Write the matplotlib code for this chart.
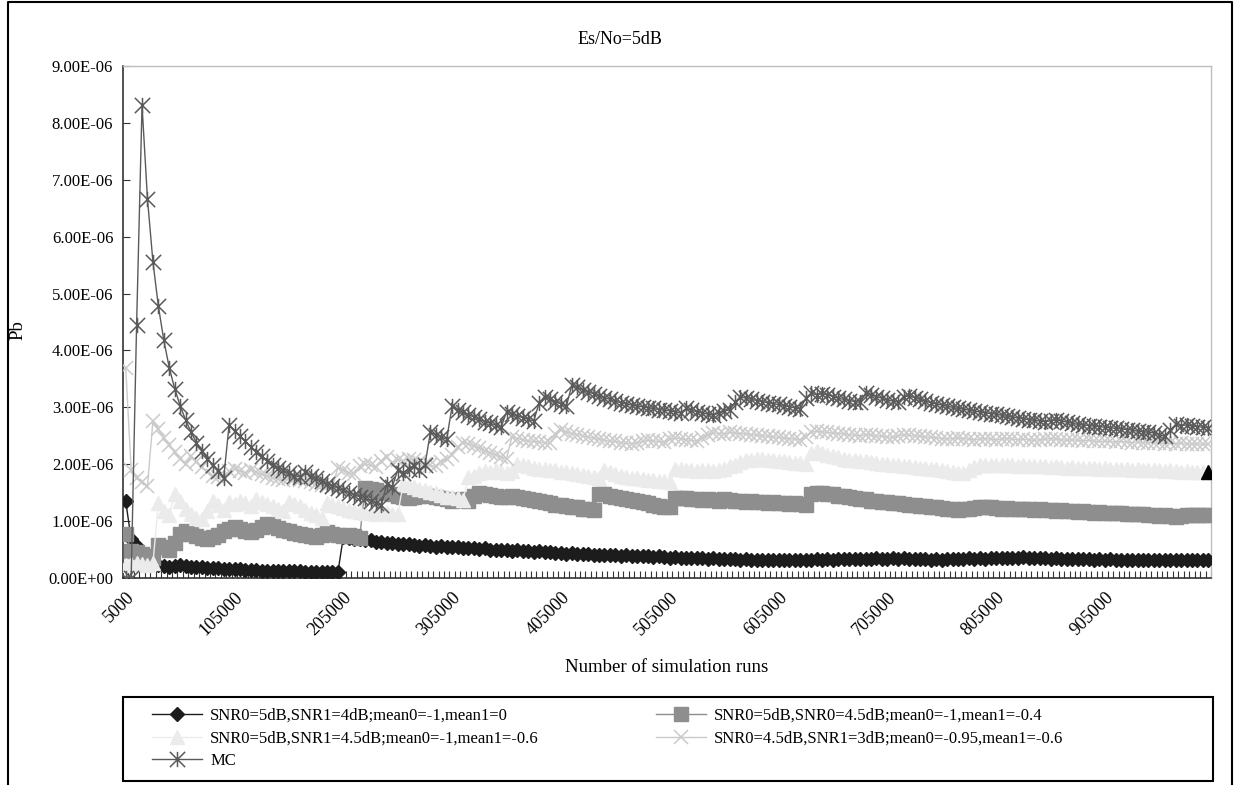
import matplotlib
matplotlib.use("Agg")
import matplotlib.pyplot as plt
import numpy as np
from matplotlib.path import Path
from matplotlib.patches import Rectangle
from matplotlib.lines import Line2D

plt.rcParams["font.family"] = ["Liberation Serif", "DejaVu Serif"]

# number of simulation runs: 5000 .. 1000000, one point every 5000
runs = np.arange(5000, 1000001, 5000)
tick_labels = ["5000", "105000", "205000", "305000", "405000",
               "505000", "605000", "705000", "805000", "905000"]

# Pb values, in units of 1e-6
s1 = [1.35, 0.68, 0.56, 0.46, 0.38, 0.30, 0.22, 0.21, 0.20, 0.21, 0.22, 0.21, 0.20, 0.19, 0.19, 0.18, 0.17, 0.17, 0.16, 0.16,
      0.15, 0.15, 0.14, 0.14, 0.14, 0.13, 0.13, 0.13, 0.13, 0.12, 0.12, 0.12, 0.12, 0.11, 0.11, 0.11, 0.11, 0.10, 0.10, 0.10,
      0.72, 0.70, 0.68, 0.69, 0.67, 0.66, 0.64, 0.63, 0.62, 0.61, 0.60, 0.59, 0.60, 0.58, 0.57, 0.58, 0.56, 0.55, 0.56, 0.55,
      0.54, 0.55, 0.53, 0.52, 0.53, 0.51, 0.52, 0.50, 0.50, 0.49, 0.49, 0.48, 0.49, 0.47, 0.47, 0.46, 0.47, 0.45, 0.45, 0.44,
      0.44, 0.43, 0.44, 0.43, 0.42, 0.42, 0.41, 0.41, 0.40, 0.41, 0.40, 0.39, 0.40, 0.39, 0.38, 0.39, 0.38, 0.37, 0.38, 0.37,
      0.36, 0.37, 0.36, 0.35, 0.36, 0.35, 0.35, 0.34, 0.35, 0.34, 0.33, 0.34, 0.33, 0.32, 0.33, 0.32, 0.31, 0.32, 0.31, 0.31,
      0.32, 0.31, 0.32, 0.31, 0.32, 0.31, 0.32, 0.33, 0.32, 0.33, 0.32, 0.33, 0.33, 0.34, 0.33, 0.34, 0.33, 0.34, 0.35, 0.34,
      0.34, 0.35, 0.34, 0.35, 0.34, 0.33, 0.34, 0.33, 0.32, 0.33, 0.32, 0.33, 0.34, 0.33, 0.34, 0.35, 0.34, 0.35, 0.34, 0.35,
      0.36, 0.35, 0.36, 0.35, 0.36, 0.37, 0.36, 0.35, 0.36, 0.35, 0.34, 0.35, 0.34, 0.33, 0.34, 0.33, 0.34, 0.33, 0.32, 0.33,
      0.32, 0.33, 0.32, 0.31, 0.32, 0.31, 0.32, 0.31, 0.32, 0.31, 0.32, 0.31, 0.32, 0.31, 0.31, 0.32, 0.31, 0.31, 0.32, 0.31]

s2 = [0.78, 0.48, 0.45, 0.42, 0.38, 0.35, 0.58, 0.55, 0.50, 0.62, 0.78, 0.82, 0.78, 0.74, 0.70, 0.68, 0.72, 0.76, 0.82, 0.86,
      0.90, 0.86, 0.82, 0.80, 0.84, 0.90, 0.95, 0.92, 0.88, 0.85, 0.82, 0.79, 0.77, 0.75, 0.73, 0.72, 0.76, 0.80, 0.78, 0.76,
      0.74, 0.75, 0.73, 0.71, 1.58, 1.56, 1.54, 1.52, 1.50, 1.48, 1.45, 1.42, 1.40, 1.42, 1.44, 1.46, 1.44, 1.42, 1.40, 1.38,
      1.36, 1.37, 1.38, 1.36, 1.44, 1.49, 1.48, 1.46, 1.44, 1.43, 1.42, 1.44, 1.43, 1.41, 1.39, 1.37, 1.35, 1.33, 1.31, 1.29,
      1.28, 1.27, 1.25, 1.24, 1.22, 1.21, 1.20, 1.48, 1.47, 1.45, 1.43, 1.41, 1.39, 1.37, 1.35, 1.33, 1.31, 1.29, 1.27, 1.25,
      1.24, 1.40, 1.41, 1.40, 1.39, 1.38, 1.37, 1.38, 1.37, 1.36, 1.38, 1.37, 1.36, 1.35, 1.34, 1.35, 1.34, 1.33, 1.32, 1.33,
      1.32, 1.31, 1.30, 1.31, 1.30, 1.29, 1.48, 1.50, 1.49, 1.48, 1.47, 1.45, 1.44, 1.42, 1.41, 1.39, 1.38, 1.36, 1.35, 1.34,
      1.33, 1.32, 1.31, 1.30, 1.29, 1.28, 1.27, 1.26, 1.25, 1.24, 1.23, 1.22, 1.21, 1.20, 1.21, 1.22, 1.23, 1.24, 1.25, 1.24,
      1.23, 1.22, 1.23, 1.22, 1.21, 1.22, 1.21, 1.20, 1.21, 1.20, 1.19, 1.18, 1.19, 1.18, 1.17, 1.16, 1.17, 1.16, 1.15, 1.16,
      1.15, 1.14, 1.15, 1.14, 1.13, 1.12, 1.13, 1.12, 1.11, 1.10, 1.09, 1.10, 1.09, 1.08, 1.09, 1.10, 1.11, 1.10, 1.11, 1.11]

s3 = [0.22, 0.24, 0.26, 0.24, 0.22, 0.26, 1.31, 1.17, 1.10, 1.48, 1.35, 1.22, 1.12, 1.06, 1.04, 1.18, 1.36, 1.28, 1.20, 1.34,
      1.30, 1.36, 1.32, 1.26, 1.38, 1.34, 1.30, 1.26, 1.22, 1.18, 1.34, 1.30, 1.26, 1.20, 1.15, 1.10, 1.05, 1.32, 1.29, 1.26,
      1.23, 1.20, 1.18, 1.16, 1.15, 1.14, 1.13, 1.15, 1.14, 1.13, 1.12, 1.66, 1.63, 1.60, 1.57, 1.55, 1.52, 1.49, 1.46, 1.43,
      1.42, 1.40, 1.37, 1.78, 1.80, 1.84, 1.88, 1.86, 1.90, 1.87, 1.85, 1.88, 2.01, 1.98, 1.96, 1.94, 1.92, 1.91, 1.90, 1.89,
      1.87, 1.86, 1.85, 1.83, 1.81, 1.80, 1.78, 1.76, 1.90, 1.86, 1.83, 1.80, 1.78, 1.76, 1.75, 1.74, 1.73, 1.72, 1.71, 1.70,
      1.69, 1.92, 1.91, 1.90, 1.89, 1.88, 1.90, 1.89, 1.88, 1.90, 1.92, 1.96, 1.99, 2.04, 2.08, 2.07, 2.10, 2.09, 2.08, 2.07,
      2.06, 2.05, 2.04, 2.03, 2.02, 2.01, 2.20, 2.24, 2.20, 2.17, 2.14, 2.12, 2.10, 2.08, 2.07, 2.06, 2.05, 2.04, 2.02, 2.01,
      2.00, 1.99, 1.98, 1.97, 1.96, 1.95, 1.94, 1.93, 1.92, 1.91, 1.90, 1.88, 1.86, 1.85, 1.84, 1.90, 1.95, 1.98, 1.99, 1.98,
      1.99, 1.98, 1.99, 1.98, 1.97, 1.98, 1.97, 1.96, 1.97, 1.96, 1.95, 1.96, 1.95, 1.94, 1.95, 1.94, 1.93, 1.94, 1.93, 1.92,
      1.93, 1.92, 1.91, 1.92, 1.91, 1.90, 1.91, 1.90, 1.89, 1.90, 1.89, 1.88, 1.89, 1.88, 1.87, 1.88, 1.87, 1.86, 1.86, 1.86]

s4 = [3.70, 1.90, 1.75, 1.68, 1.62, 2.76, 2.62, 2.46, 2.34, 2.22, 2.10, 2.00, 2.14, 2.04, 1.95, 1.87, 1.80, 1.78, 1.76, 1.88,
      1.92, 1.88, 1.85, 1.90, 1.86, 1.82, 1.79, 1.76, 1.74, 1.72, 1.76, 1.74, 1.72, 1.70, 1.68, 1.66, 1.64, 1.62, 1.60, 1.94,
      1.90, 1.85, 1.82, 1.96, 2.01, 1.98, 1.95, 2.05, 2.13, 2.02, 2.08, 2.06, 2.10, 2.07, 2.04, 2.01, 1.98, 1.96, 2.04, 2.10,
      2.16, 2.30, 2.38, 2.36, 2.32, 2.28, 2.24, 2.20, 2.16, 2.13, 2.10, 2.48, 2.45, 2.43, 2.41, 2.40, 2.39, 2.38, 2.37, 2.54,
      2.60, 2.57, 2.54, 2.52, 2.50, 2.48, 2.46, 2.44, 2.42, 2.41, 2.40, 2.38, 2.37, 2.36, 2.38, 2.40, 2.42, 2.41, 2.40, 2.39,
      2.44, 2.46, 2.45, 2.43, 2.42, 2.41, 2.46, 2.52, 2.55, 2.54, 2.53, 2.56, 2.55, 2.54, 2.53, 2.52, 2.51, 2.50, 2.49, 2.48,
      2.47, 2.46, 2.45, 2.44, 2.43, 2.48, 2.56, 2.58, 2.57, 2.56, 2.55, 2.54, 2.53, 2.52, 2.51, 2.50, 2.52, 2.51, 2.50, 2.49,
      2.48, 2.47, 2.50, 2.52, 2.51, 2.50, 2.49, 2.48, 2.47, 2.46, 2.45, 2.44, 2.45, 2.46, 2.45, 2.44, 2.43, 2.44, 2.45, 2.44,
      2.43, 2.44, 2.45, 2.44, 2.43, 2.44, 2.43, 2.42, 2.43, 2.44, 2.45, 2.44, 2.43, 2.42, 2.43, 2.42, 2.41, 2.42, 2.41, 2.40,
      2.41, 2.40, 2.39, 2.40, 2.39, 2.38, 2.39, 2.38, 2.37, 2.38, 2.37, 2.36, 2.37, 2.36, 2.37, 2.36, 2.35, 2.36, 2.35, 2.35]

mc = [0.00, 0.00, 4.45, 8.31, 6.66, 5.56, 4.78, 4.18, 3.70, 3.33, 3.03, 2.78, 2.57, 2.38, 2.24, 2.10, 1.99, 1.88, 1.75, 2.69,
      2.58, 2.49, 2.40, 2.31, 2.22, 2.14, 2.06, 1.99, 1.94, 1.89, 1.84, 1.80, 1.78, 1.86, 1.80, 1.75, 1.70, 1.66, 1.62, 1.58,
      1.54, 1.50, 1.46, 1.43, 1.40, 1.36, 1.32, 1.28, 1.66, 1.60, 1.90, 1.85, 1.92, 1.96, 1.90, 1.98, 2.56, 2.52, 2.48, 2.44,
      3.02, 2.96, 2.91, 2.87, 2.83, 2.79, 2.75, 2.72, 2.69, 2.65, 2.92, 2.88, 2.85, 2.82, 2.79, 2.76, 3.08, 3.19, 3.14, 3.10,
      3.06, 3.02, 3.39, 3.35, 3.31, 3.27, 3.24, 3.20, 3.17, 3.14, 3.11, 3.08, 3.06, 3.04, 3.02, 3.01, 2.99, 2.98, 2.96, 2.95,
      2.94, 2.92, 2.90, 2.98, 2.95, 2.92, 2.90, 2.88, 2.86, 2.90, 2.93, 2.96, 3.09, 3.19, 3.16, 3.14, 3.12, 3.10, 3.08, 3.06,
      3.05, 3.03, 3.01, 2.99, 2.97, 3.16, 3.25, 3.22, 3.24, 3.22, 3.19, 3.16, 3.14, 3.12, 3.10, 3.09, 3.25, 3.22, 3.19, 3.16,
      3.13, 3.11, 3.09, 3.19, 3.20, 3.17, 3.14, 3.11, 3.08, 3.06, 3.04, 3.02, 3.00, 2.98, 2.97, 2.95, 2.93, 2.92, 2.90, 2.89,
      2.88, 2.86, 2.84, 2.83, 2.81, 2.80, 2.78, 2.77, 2.76, 2.75, 2.76, 2.78, 2.76, 2.74, 2.72, 2.70, 2.69, 2.68, 2.67, 2.66,
      2.65, 2.64, 2.63, 2.62, 2.61, 2.60, 2.58, 2.57, 2.56, 2.55, 2.52, 2.49, 2.60, 2.70, 2.68, 2.69, 2.67, 2.66, 2.65, 2.64]

labels = ["SNR0=5dB,SNR1=4dB;mean0=-1,mean1=0",
          "SNR0=5dB,SNR0=4.5dB;mean0=-1,mean1=-0.4",
          "SNR0=5dB,SNR1=4.5dB;mean0=-1,mean1=-0.6",
          "SNR0=4.5dB,SNR1=3dB;mean0=-0.95,mean1=-0.6",
          "MC"]

# Excel style star marker: an X with a vertical bar
star = Path([(-1, -1), (1, 1), (-1, 1), (1, -1), (0, -1), (0, 1)],
            [Path.MOVETO, Path.LINETO] * 3)

fig = plt.figure(figsize=(12.39, 7.85), dpi=100)
ax = fig.add_axes([123 / 1239, 1 - 578 / 785, 1088 / 1239, 512 / 785])

x = np.arange(len(runs))
scale = 1e-6
h1, = ax.plot(x, np.array(s1) * scale, color="#1c1c1c", lw=1.0, marker="D", ms=7.5,
              mec="#1c1c1c", mfc="#1c1c1c", zorder=3)
h2, = ax.plot(x, np.array(s2) * scale, color="#8e8e8e", lw=1.0, marker="s", ms=9.5,
              mec="#8e8e8e", mfc="#8e8e8e", zorder=4)
h3, = ax.plot(x, np.array(s3) * scale, color="#ebebeb", lw=1.0, marker="^", ms=10.5,
              mec="#ebebeb", mfc="#ebebeb", zorder=5)
# last point of this series is shown in black
ax.plot(x[-1:], np.array(s3[-1:]) * scale, ls="none", marker="^", ms=10,
        color="black", zorder=9)
h4, = ax.plot(x, np.array(s4) * scale, color="#cacaca", lw=1.0, marker="x", ms=10,
              mew=1.1, mec="#cacaca", zorder=6)
h5, = ax.plot(x, np.array(mc) * scale, color="#5a5a5a", lw=1.0, marker=star, ms=11,
              mew=1.1, mec="#5a5a5a", zorder=7)

ax.set_xlim(-0.5, len(runs) - 0.5)
ax.set_ylim(0, 9e-6)
ax.set_yticks(np.arange(0, 9.01e-6, 1e-6))
ax.set_yticklabels(["%.2E" % v for v in np.arange(0, 9.01e-6, 1e-6)], fontsize=12)
ax.tick_params(axis="y", direction="in", length=5, pad=7, color="#333333")

ax.set_xticks(np.arange(0, len(runs), 20))
ax.set_xticklabels(tick_labels, rotation=45, ha="right", va="top",
                   rotation_mode="anchor", fontsize=13)
ax.set_xticks(np.arange(-0.5, len(runs), 1), minor=True)
ax.tick_params(axis="x", which="major", length=0, pad=8)
ax.tick_params(axis="x", which="minor", direction="in", length=5, width=0.8, color="#333333")

for side in ("left", "bottom"):
    ax.spines[side].set_color("#333333")
    ax.spines[side].set_linewidth(1.2)
for side in ("top", "right"):
    ax.spines[side].set_color("#bdbdbd")
    ax.spines[side].set_linewidth(1.0)

fig.text(0.5, 1 - 40 / 785, "Es/No=5dB", ha="center", va="center", fontsize=13)
fig.text(667 / 1239, 1 - 668 / 785, "Number of simulation runs", ha="center",
         va="center", fontsize=13.5)
fig.text(18 / 1239, 1 - 330 / 785, "Pb", rotation=90, ha="center", va="center",
         fontsize=13.5)

# legend, three rows, two columns
fig.legend([h1, h3, h5, h2, h4], [labels[0], labels[2], labels[4], labels[1], labels[3]],
           ncol=2, loc="upper left", bbox_to_anchor=(152 / 1239, 1 - 708 / 785),
           frameon=False, fontsize=12, handlelength=3.0, handletextpad=0.5,
           labelspacing=0.38, columnspacing=7.0, borderaxespad=0, borderpad=0)

fig.add_artist(Rectangle((123 / 1239, 1 - 781 / 785), 1090 / 1239, 84 / 785,
                         transform=fig.transFigure, fill=False, ec="black", lw=1.5))
# outer chart border
fig.add_artist(Line2D([8 / 1239, 8 / 1239, 1232 / 1239, 1232 / 1239],
                      [0, 1 - 2 / 785, 1 - 2 / 785, 0],
                      transform=fig.transFigure, color="black", lw=1.5))

fig.savefig("out.png", dpi=100)
